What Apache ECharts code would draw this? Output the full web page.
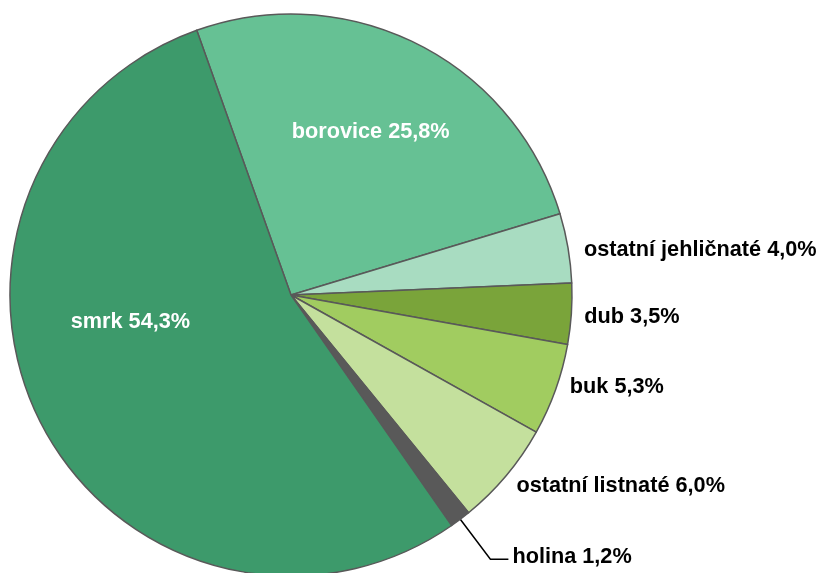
<!DOCTYPE html>
<html>
<head>
<meta charset="utf-8">
<script src="https://cdn.jsdelivr.net/npm/echarts@6/dist/echarts.min.js"></script>
<style>
html,body{margin:0;padding:0;background:#fff;}
#chart{width:819px;height:573px;}
</style>
</head>
<body>
<div id="chart"></div>
<script>
// Data (clockwise from the smrk/borovice boundary)
var categories = ['borovice', 'ostatní jehličnaté', 'dub', 'buk', 'ostatní listnaté', 'holina', 'smrk'];
var values = [25.8, 4.0, 3.5, 5.3, 6.0, 1.2, 54.3];

// Styles
var colors = ['#66c194', '#a8dcc1', '#7aa43a', '#a1cc60', '#c4e09d', '#595959', '#3d9a6b'];
var labelStyles = [
  {position: 'inside', color: '#ffffff', offset: [15, -35]},
  {position: 'outside', color: '#000000', len: 6, len2: 5, offset: [0, 3]},
  {position: 'outside', color: '#000000', len: 6, len2: 2, offset: [0, 3]},
  {position: 'outside', color: '#000000', len: 4, len2: 5.5, offset: [0, -4]},
  {position: 'outside', color: '#000000', len: 12, len2: 0, dist: 1, offset: [0, 3]},
  {position: 'outside', color: '#000000', len: 50, len2: 18, dist: 4, line: true, offset: [0, -2]},
  {position: 'inside', color: '#ffffff', offset: [-33, -39]}
];

function fmt(v) { return v.toFixed(1).replace('.', ','); }

var seriesData = categories.map(function (name, i) {
  var s = labelStyles[i];
  var item = {
    name: name,
    value: values[i],
    itemStyle: {color: colors[i]},
    label: {
      position: s.position,
      color: s.color,
      distanceToLabelLine: s.dist !== undefined ? s.dist : 5
    },
    labelLine: {
      show: !!s.line,
      length: s.len || 0,
      length2: s.len2 || 0,
      lineStyle: {color: '#000000', width: 1.5}
    }
  };
  if (s.offset) item.label.offset = s.offset;
  return item;
});

var chart = echarts.init(document.getElementById('chart'), null, {renderer: 'canvas'});
chart.setOption({
  animation: false,
  backgroundColor: '#ffffff',
  series: [{
    type: 'pie',
    center: [291, 295],
    radius: [0, 281],
    startAngle: 109.6,
    clockwise: true,
    avoidLabelOverlap: false,
    itemStyle: {borderColor: '#595959', borderWidth: 1.5},
    label: {
      show: true,
      fontFamily: 'Liberation Sans, Arial, sans-serif',
      fontWeight: 'bold',
      fontSize: 21.7,
      formatter: function (p) { return p.name + ' ' + fmt(p.value) + '%'; }
    },
    emphasis: {disabled: true},
    data: seriesData
  }]
});
</script>
</body>
</html>
